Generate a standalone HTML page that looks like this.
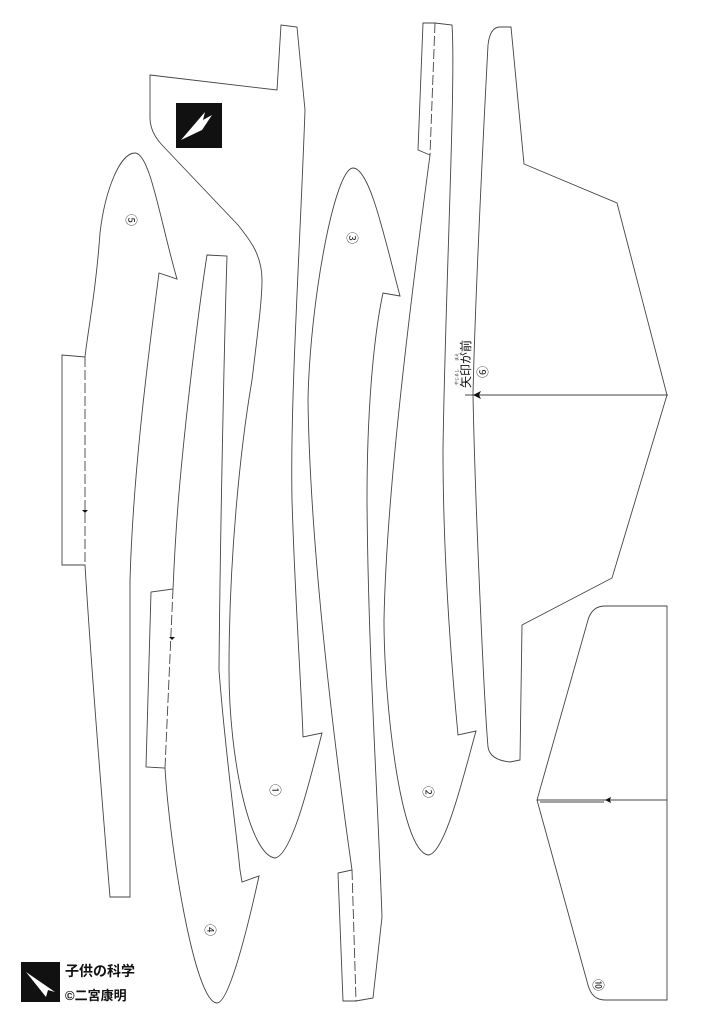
<!DOCTYPE html>
<html><head><meta charset="utf-8"><style>
html,body{margin:0;padding:0;background:#fff;}
svg{display:block;}
text{font-family:"Liberation Sans","Noto Sans CJK JP",sans-serif;}
</style></head><body>
<svg width="726" height="1024" viewBox="0 0 726 1024" xmlns="http://www.w3.org/2000/svg">
<rect width="726" height="1024" fill="#fff"/>
<g fill="none" stroke="#444" stroke-width="0.9">
<!-- piece 1 (logo piece) -->
<path d="M150,75 L277,90 L281,25 L297,27 L305,110 C300,250 290,400 292,500 C295,600 302,700 303,737 L322,733 C310,780 292,855 275,858 C250,855 229,760 229,670 C229,560 240,450 252,380 C258,330 262,300 262,280 C262,255 250,240 238,225 L162,145 Q150,132 150,118 Z"/>
<!-- piece 3 (long, tab bottom) -->
<path d="M353,168 C335,168 310,300 308,400 C310,550 335,750 352,870 L338,873 L343,1001 L356,1001 L373,998 L382,917 C378,800 368,650 367,500 C367,400 375,330 383,293 L400,296 C385,240 370,168 353,168 Z"/>
<path d="M352,870 L356,1001" stroke-dasharray="10,3"/>
<!-- piece 2 (tab top) -->
<path d="M428,855 C400,850 384,700 384,620 C386,520 400,380 430,155 L418,150 L423,23 L435,23 L452,25 C456,80 445,300 443,450 C443,550 450,650 458,735 L476,731 C465,770 445,855 428,855 Z"/>
<path d="M435,23 L430,155" stroke-dasharray="10,3"/>
<!-- piece 5 -->
<path d="M135,153 C120,153 105,190 100,233 C96,290 88,330 85,357 L62,355 L62,565 L85,565 C92,680 102,800 110,897 L130,897 L130,580 C133,480 145,380 159,273 L177,279 C160,220 150,153 135,153 Z"/>
<path d="M85,357 L85,565" stroke-dasharray="10,3"/>
<!-- piece 4 -->
<path d="M207,255 L227,256 C224,350 220,550 219,670 C225,750 235,820 240,870 L242,882 L259,876 C245,940 228,1003 217,1003 C195,1003 170,850 165,768 L146,767 L151,592 L173,589 C176,520 180,480 183,450 C190,380 200,300 207,255 Z"/>
<path d="M173,589 L165,768" stroke-dasharray="10,3"/>
<!-- wing 9 -->
<path d="M488,45 Q490,27 500,27 L511,27 L524,164 L617,203 L667,395 L612,578 L522,625 L520,760 L510,762 Q490,760 488,747 C484,700 475,500 473,395 C475,300 484,120 488,45 Z"/>
<line x1="465" y1="395" x2="668" y2="395"/>
<!-- tail 10 -->
<path d="M605,606 L667,606 L667,1000 L605,1000 Q592,1000 588,985 L537,800 L588,620 Q592,606 605,606 Z"/>
<line x1="537" y1="800" x2="667" y2="800"/>
<line x1="540" y1="802" x2="604" y2="802"/>
</g>
<g fill="#111">
<path d="M473,395 l8,-4 l-2,4 l2,4 z"/>
<path d="M605,800 l6,-3 l-1,3 l1,3 z"/>
<path d="M85,513 l-3,-3 h6 z"/>
<path d="M172,640 l-3,-3 h6 z"/>
<!-- logo top -->
<rect x="176" y="103" width="46" height="45"/>
<path d="M181,140 L205,112 L203,120 L212,115 L202,130 Z" fill="#fff"/>
<!-- bottom logo -->
<rect x="21" y="962" width="39" height="40"/>
<path d="M26,972 L55,992 L48,990 L46,997 Z" fill="#fff"/>
</g>
<g font-size="12" fill="#222">
<text transform="translate(127,220) rotate(90)" text-anchor="middle">⑤</text>
<text transform="translate(348,238) rotate(90)" text-anchor="middle">③</text>
<text transform="translate(271,790) rotate(90)" text-anchor="middle">①</text>
<text transform="translate(424,792) rotate(90)" text-anchor="middle">②</text>
<text transform="translate(206,930) rotate(90)" text-anchor="middle">④</text>
<text transform="translate(478,372) rotate(90)" text-anchor="middle">⑨</text>
<text transform="translate(594,985) rotate(90)" text-anchor="middle">⑩</text>
</g>
<text transform="translate(470,388) rotate(-90)" font-size="12" fill="#111">矢印が前</text>
<text transform="translate(458,385) rotate(-90)" font-size="4" fill="#111">やじるし　　まえ</text>
<text x="65" y="976" font-size="14" font-weight="bold" fill="#111">子供の科学</text>
<text x="65" y="1000" font-size="13" font-weight="bold" fill="#111">©二宮康明</text>
</svg>
</body></html>
